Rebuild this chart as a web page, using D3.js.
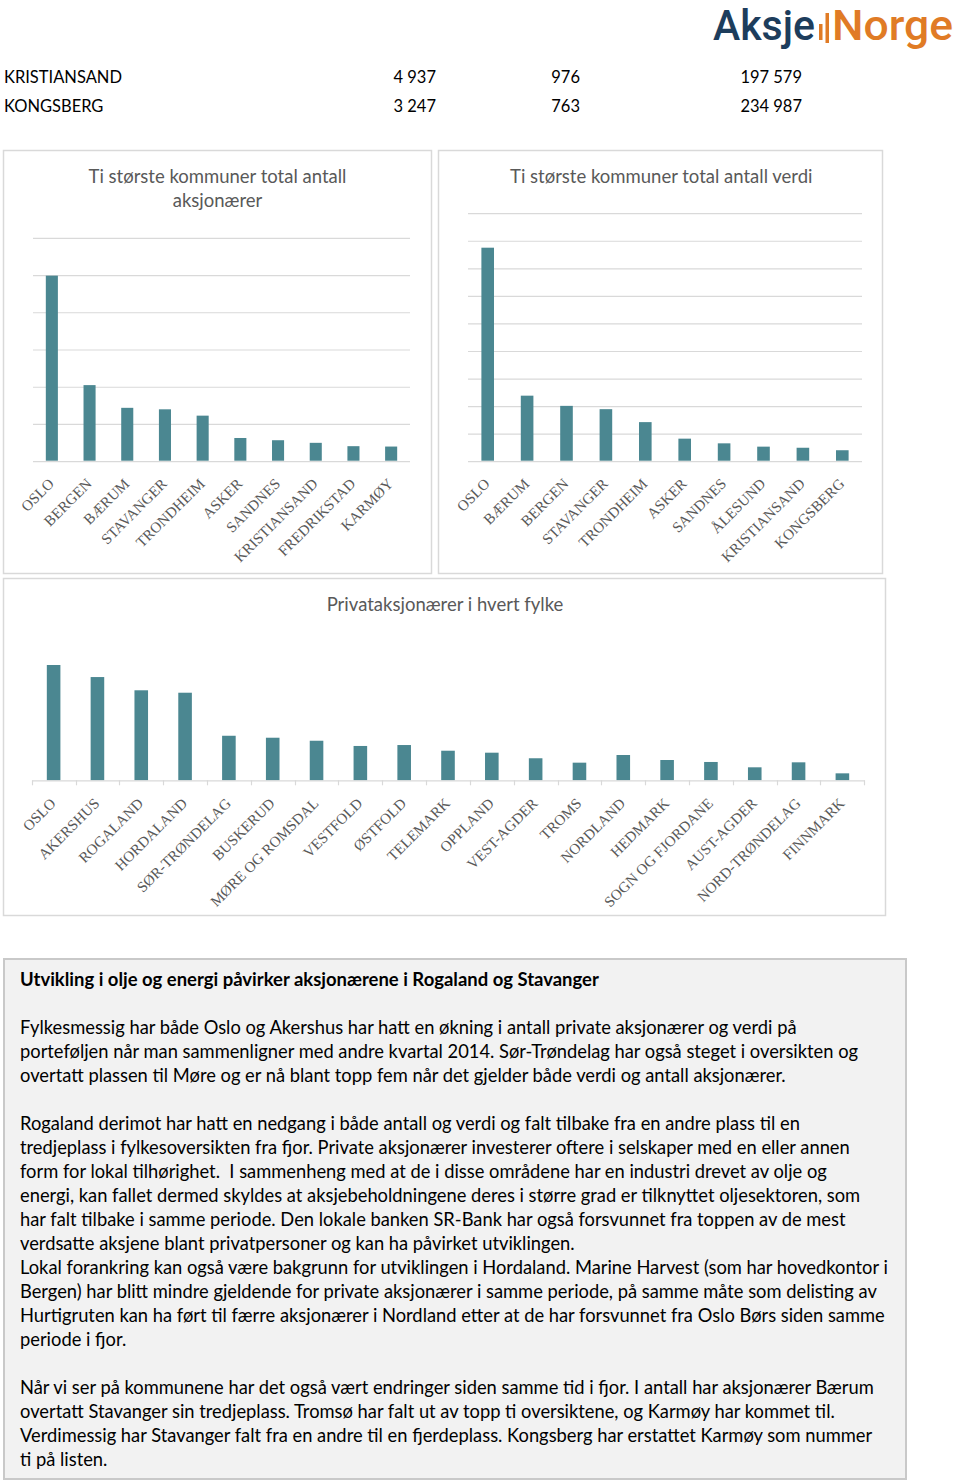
<!DOCTYPE html>
<html><head><meta charset="utf-8">
<script src="https://cdn.jsdelivr.net/npm/d3@7"></script>
<style>body{margin:0;background:#fff} svg{display:block} text{white-space:pre}</style>
</head><body>
<svg id="c" width="960" height="1481"></svg>
<script>
// ---------- DATA ----------
const tableRows = ["KRISTIANSAND", "KONGSBERG"];
const tableCol1 = ["4 937", "3 247"];
const tableCol2 = ["976", "763"];
const tableCol3 = ["197 579", "234 987"];

const title1 = ["Ti største kommuner total antall", "aksjonærer"];
const kommunerAntall = ["OSLO","BERGEN","BÆRUM","STAVANGER","TRONDHEIM","ASKER","SANDNES","KRISTIANSAND","FREDRIKSTAD","KARMØY"];
const antallValues   = [99400, 40600, 28400, 27600, 24200, 12200, 11000, 9600, 7800, 7600];
const antallTicks    = [0, 20000, 40000, 60000, 80000, 100000, 120000];

const title2 = ["Ti største kommuner total antall verdi"];
const kommunerVerdi = ["OSLO","BÆRUM","BERGEN","STAVANGER","TRONDHEIM","ASKER","SANDNES","ÅLESUND","KRISTIANSAND","KONGSBERG"];
const verdiValues   = [38650, 11800, 9950, 9350, 7000, 4000, 3150, 2550, 2350, 1900];
const verdiTicks    = [0, 5000, 10000, 15000, 20000, 25000, 30000, 35000, 40000, 45000];

const title3 = ["Privataksjonærer i hvert fylke"];
const fylker = ["OSLO","AKERSHUS","ROGALAND","HORDALAND","SØR-TRØNDELAG","BUSKERUD","MØRE OG ROMSDAL","VESTFOLD","ØSTFOLD","TELEMARK","OPPLAND","VEST-AGDER","TROMS","NORDLAND","HEDMARK","SOGN OG FJORDANE","AUST-AGDER","NORD-TRØNDELAG","FINNMARK"];
const fylkeValues = [99400, 89000, 77600, 75500, 38400, 36700, 34100, 29600, 30400, 25500, 23800, 19000, 15200, 21800, 17500, 15800, 11200, 15500, 6000];
const fylkeMax = 120000;

const heading = "Utvikling i olje og energi påvirker aksjonærene i Rogaland og Stavanger";
const bodyLines = [
"Fylkesmessig har både Oslo og Akershus har hatt en økning i antall private aksjonærer og verdi på",
"porteføljen når man sammenligner med andre kvartal 2014. Sør-Trøndelag har også steget i oversikten og",
"overtatt plassen til Møre og er nå blant topp fem når det gjelder både verdi og antall aksjonærer.",
"",
"Rogaland derimot har hatt en nedgang i både antall og verdi og falt tilbake fra en andre plass til en",
"tredjeplass i fylkesoversikten fra fjor. Private aksjonærer investerer oftere i selskaper med en eller annen",
"form for lokal tilhørighet.  I sammenheng med at de i disse områdene har en industri drevet av olje og",
"energi, kan fallet dermed skyldes at aksjebeholdningene deres i større grad er tilknyttet oljesektoren, som",
"har falt tilbake i samme periode. Den lokale banken SR-Bank har også forsvunnet fra toppen av de mest",
"verdsatte aksjene blant privatpersoner og kan ha påvirket utviklingen.",
"Lokal forankring kan også være bakgrunn for utviklingen i Hordaland. Marine Harvest (som har hovedkontor i",
"Bergen) har blitt mindre gjeldende for private aksjonærer i samme periode, på samme måte som delisting av",
"Hurtigruten kan ha ført til færre aksjonærer i Nordland etter at de har forsvunnet fra Oslo Børs siden samme",
"periode i fjor.",
"",
"Når vi ser på kommunene har det også vært endringer siden samme tid i fjor. I antall har aksjonærer Bærum",
"overtatt Stavanger sin tredjeplass. Tromsø har falt ut av topp ti oversiktene, og Karmøy har kommet til.",
"Verdimessig har Stavanger falt fra en andre til en fjerdeplass. Kongsberg har erstattet Karmøy som nummer",
"ti på listen."
];

// ---------- STYLE ----------
const SANS = "Lato, 'Open Sans', sans-serif";
const SERIF = "'Liberation Serif', 'DejaVu Serif', serif";
const BAR = "#4b8791";
const GRID = "#d9d9d9";
const TXT = "#595959";

const svg = d3.select("#c");

function fitSize(text, family, weight, target, base) {
  const t = svg.append("text").attr("font-family", family).attr("font-weight", weight)
    .attr("font-size", base).text(text);
  const w = t.node().getComputedTextLength();
  t.remove();
  return base * target / w;
}

// ---------- LOGO ----------
const LOGO = "Roboto, 'DejaVu Sans', sans-serif";
svg.append("text").attr("x", 713).attr("y", 40).attr("font-family", LOGO).attr("font-weight", 500)
  .attr("font-size", 43).attr("fill", "#1d3d5c")
  .attr("textLength", 102).attr("lengthAdjust", "spacingAndGlyphs").text("Aksje");
svg.append("rect").attr("x", 819).attr("y", 24).attr("width", 3.5).attr("height", 16).attr("fill", "#e07b25");
svg.append("rect").attr("x", 825.5).attr("y", 13).attr("width", 3.5).attr("height", 30).attr("fill", "#e07b25");
svg.append("text").attr("x", 832).attr("y", 40).attr("font-family", LOGO).attr("font-weight", 500)
  .attr("font-size", 43).attr("fill", "#e07b25")
  .attr("textLength", 121).attr("lengthAdjust", "spacingAndGlyphs").text("Norge");

// ---------- TABLE ----------
const tableFs = fitSize("KRISTIANSAND", SANS, 400, 118, 17);
tableRows.forEach((r, i) => {
  const y = 83 + i * 29;
  const g = svg.append("g").attr("font-family", SANS).attr("font-size", tableFs).attr("fill", "#000");
  g.append("text").attr("x", 4).attr("y", y).text(r);
  g.append("text").attr("x", 436).attr("y", y).attr("text-anchor", "end").text(tableCol1[i]);
  g.append("text").attr("x", 580).attr("y", y).attr("text-anchor", "end").text(tableCol2[i]);
  g.append("text").attr("x", 802).attr("y", y).attr("text-anchor", "end").text(tableCol3[i]);
});

// ---------- PANELS ----------
function panel(x0, y0, x1, y1) {
  svg.append("rect").attr("x", x0 + 0.5).attr("y", y0 + 0.5).attr("width", x1 - x0).attr("height", y1 - y0)
    .attr("fill", "#fff").attr("stroke", GRID).attr("stroke-width", 1.5);
}
panel(3, 150, 431, 573);
panel(438, 150, 882, 573);
panel(3, 578, 885, 915);

const titleFs = fitSize(title1[0], SANS, 400, 258, 18);

function titleBlock(lines, cx, y0) {
  lines.forEach((l, i) => {
    svg.append("text").attr("x", cx).attr("y", y0 + i * 24).attr("text-anchor", "middle")
      .attr("font-family", SANS).attr("font-size", titleFs).attr("fill", TXT).text(l);
  });
}

function rotateLabels(axisG) {
  axisG.selectAll(".tick text")
    .attr("x", 0).attr("y", 0).attr("dy", 0)
    .attr("text-anchor", "end")
    .attr("transform", "translate(3,24) rotate(-45)")
    .attr("font-family", SERIF).attr("font-size", 15).attr("fill", TXT);
}

function barChart(cats, vals, ticks, x0, x1, yBase, yTop, grid, title, titleX, titleY) {
  titleBlock(title, titleX, titleY);
  const x = d3.scaleBand().domain(cats).range([x0, x1]).paddingInner(0).paddingOuter(0);
  const y = d3.scaleLinear().domain([ticks[0], ticks[ticks.length - 1]]).range([yBase, yTop]);
  const step = x.step(), bw = step * 0.32;
  if (grid) {
    const g = svg.append("g").attr("transform", `translate(${x0},0.5)`)
      .call(d3.axisLeft(y).tickValues(ticks).tickSize(-(x1 - x0)).tickFormat(""));
    g.select(".domain").remove();
    g.selectAll(".tick line").attr("stroke", GRID).attr("stroke-width", 1.2);
  }
  svg.append("g").selectAll("rect").data(cats).join("rect")
    .attr("x", d => x(d) + (step - bw) / 2)
    .attr("width", bw)
    .attr("y", (d, i) => y(vals[i]))
    .attr("height", (d, i) => yBase - y(vals[i]))
    .attr("fill", BAR);
  const ax = svg.append("g").attr("transform", `translate(0,${yBase})`)
    .call(d3.axisBottom(x).tickSize(0).tickSizeOuter(0));
  ax.select(".domain").remove();
  rotateLabels(ax);
  return { x, y };
}

barChart(kommunerAntall, antallValues, antallTicks, 33, 410, 460.7, 237.3, true, title1, 217.5, 183);
barChart(kommunerVerdi, verdiValues, verdiTicks, 468, 862, 460.7, 212.7, true, title2, 661.3, 183);

// Chart 3: axis line with boundary ticks
(function () {
  const x0 = 31.7, x1 = 864.3, yBase = 780.3;
  titleBlock(title3, 445, 611);
  const x = d3.scaleBand().domain(fylker).range([x0, x1]).paddingInner(0).paddingOuter(0);
  const y = d3.scaleLinear().domain([0, fylkeMax]).range([yBase, yBase - 139.2]);
  const step = x.step(), bw = step * 0.31;
  svg.append("g").selectAll("rect").data(fylker).join("rect")
    .attr("x", d => x(d) + (step - bw) / 2)
    .attr("width", bw)
    .attr("y", (d, i) => y(fylkeValues[i]))
    .attr("height", (d, i) => yBase - y(fylkeValues[i]))
    .attr("fill", BAR);
  const ax = svg.append("g").attr("transform", `translate(0,${yBase})`)
    .call(d3.axisBottom(x).tickSize(0).tickSizeOuter(0));
  ax.select(".domain").attr("stroke", GRID).attr("stroke-width", 1.2);
  rotateLabels(ax);
  const bounds = fylker.map(d => x(d)).concat([x.range()[1]]);
  svg.append("g").selectAll("line").data(bounds).join("line")
    .attr("x1", d => Math.round(d) + 0.5).attr("x2", d => Math.round(d) + 0.5)
    .attr("y1", yBase).attr("y2", yBase + 5)
    .attr("stroke", GRID).attr("stroke-width", 1.2);
})();

// ---------- TEXT BOX ----------
svg.append("rect").attr("x", 4).attr("y", 959).attr("width", 902).attr("height", 520)
  .attr("fill", "#f2f2f2").attr("stroke", "#c9c9c9").attr("stroke-width", 2);
const headFs = fitSize(heading, SANS, 700, 579, 17);
svg.append("text").attr("x", 20).attr("y", 986).attr("font-family", SANS).attr("font-weight", 700)
  .attr("font-size", headFs).attr("fill", "#000").text(heading);
const bodyFs = fitSize(bodyLines[0], SANS, 400, 777, 17);
svg.append("g").selectAll("text").data(bodyLines).join("text")
  .attr("x", 20).attr("y", (d, i) => 1034 + i * 24)
  .attr("font-family", SANS).attr("font-size", bodyFs).attr("fill", "#000")
  .text(d => d);
</script>
</body></html>
